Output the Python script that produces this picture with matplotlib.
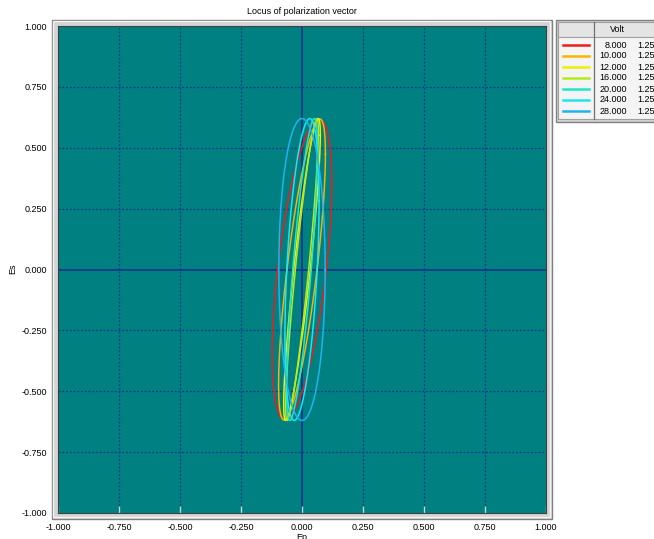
import numpy as np
import matplotlib
matplotlib.use("Agg")
import matplotlib.pyplot as plt
from matplotlib.patches import Rectangle
from matplotlib.lines import Line2D

# ---- data (ellipse parameters) ----
volts = [8.0, 10.0, 12.0, 16.0, 20.0, 24.0, 28.0]
second_col = [1.25, 1.25, 1.25, 1.25, 1.25, 1.25, 1.25]
ep_amp = [0.122, 0.096, 0.075, 0.067, 0.063, 0.07, 0.095]
es_amp = [0.615, 0.618, 0.62, 0.62, 0.62, 0.62, 0.62]
phase_deg = [55, 40, 27, 24, 37, 63, 90]
colors = ["#ee1c1c", "#f7b400", "#f0f000", "#b4ea1e", "#1ee6c8", "#1ee6f0", "#1eb4f0"]
ticks = [-1.0, -0.75, -0.5, -0.25, 0.0, 0.25, 0.5, 0.75, 1.0]

W, H = 654, 539
fig = plt.figure(figsize=(W / 100, H / 100), dpi=100)
plt.rcParams['font.family'] = ['Liberation Sans', 'DejaVu Sans']

def fx(px):
    return px / W

def fy(py):
    return 1 - py / H

# plot area px
L, R, T, B = 58, 546, 26, 513
# bevel frame
fig.add_artist(Rectangle((fx(52), fy(519)), fx(552) - fx(52), fy(20) - fy(519),
                         transform=fig.transFigure, facecolor="#d4d4d4",
                         edgecolor="#808080", lw=1.0, zorder=0))
fig.add_artist(Rectangle((fx(53), fy(517)), fx(550) - fx(53), fy(21) - fy(517),
                         transform=fig.transFigure, facecolor="none",
                         edgecolor="#f4f4f4", lw=1.0, zorder=0))

ax = fig.add_axes([fx(L), fy(B), fx(R) - fx(L), fy(T) - fy(B)])
ax.set_facecolor("#008080")
ax.set_xlim(-1, 1)
ax.set_ylim(-1, 1)
for s in ax.spines.values():
    s.set_color("#404040")
    s.set_linewidth(0.8)

for t in ticks[1:-1]:
    if t == 0:
        continue
    ax.axvline(t, color="#0a3a8c", lw=0.9, ls=(0, (1.5, 1.5)), zorder=1)
    ax.axhline(t, color="#0a3a8c", lw=0.9, ls=(0, (1.5, 1.5)), zorder=1)
ax.axvline(0, color="#0a3a8c", lw=1.3, zorder=1)
ax.axhline(0, color="#0a3a8c", lw=1.3, zorder=1)

theta = np.linspace(0, 2 * np.pi, 400)
for a, b, ph, c in zip(ep_amp, es_amp, phase_deg, colors):
    x = a * np.cos(theta)
    y = b * np.cos(theta - np.deg2rad(ph))
    ax.plot(x, y, color=c, lw=1.1, zorder=3)

ax.set_xticks(ticks)
ax.set_yticks(ticks)
ax.set_xticklabels([f"{t:.3f}" for t in ticks], fontsize=6.5)
ax.set_yticklabels([f"{t:.3f}" for t in ticks], fontsize=6.5)
ax.tick_params(axis="x", direction="in", length=5, color="#b8d8d8", pad=7, width=1)
ax.tick_params(axis="y", length=0, pad=8)

fig.text(fx(302), fy(12), "Locus of polarization vector", ha="center", va="center", fontsize=6.5)
fig.text(fx(13), fy(269), "Es", ha="center", va="center", rotation=90, fontsize=6.5)
fig.text(fx(302), fy(538), "Ep", ha="center", va="center", fontsize=6.5)

# ---- legend table ----
lx0, ly0, lx1, ly1 = 556, 20, 660, 122
fig.add_artist(Rectangle((fx(lx0), fy(ly1)), fx(lx1) - fx(lx0), fy(ly0) - fy(ly1),
                         transform=fig.transFigure, facecolor="#d4d4d4",
                         edgecolor="#808080", lw=1.0, zorder=5))
fig.add_artist(Rectangle((fx(558), fy(119)), fx(lx1) - fx(558), fy(22) - fy(119),
                         transform=fig.transFigure, facecolor="#f4f4f4",
                         edgecolor="#a0a0a0", lw=0.8, zorder=5))
fig.add_artist(Rectangle((fx(558), fy(37)), fx(lx1) - fx(558), fy(22) - fy(37),
                         transform=fig.transFigure, facecolor="#e4e4e4",
                         edgecolor="#a0a0a0", lw=0.8, zorder=6))
fig.add_artist(Line2D([fx(594), fx(594)], [fy(22), fy(119)], transform=fig.transFigure,
                      color="#707070", lw=0.9, zorder=7))
fig.text(fx(617), fy(30), "Volt", ha="center", va="center", fontsize=6.5, zorder=8)
for i, (v, s2, c) in enumerate(zip(volts, second_col, colors)):
    yy = 45 + i * 11
    fig.add_artist(Line2D([fx(563), fx(589)], [fy(yy), fy(yy)], transform=fig.transFigure,
                          color=c, lw=1.8, zorder=8))
    fig.text(fx(627), fy(yy), f"{v:.3f}", ha="right", va="center", fontsize=6.5, zorder=8)
    fig.text(fx(637), fy(yy), f"{s2:.3f}", ha="left", va="center", fontsize=6.5, zorder=8)

fig.savefig("out.png", dpi=100)
